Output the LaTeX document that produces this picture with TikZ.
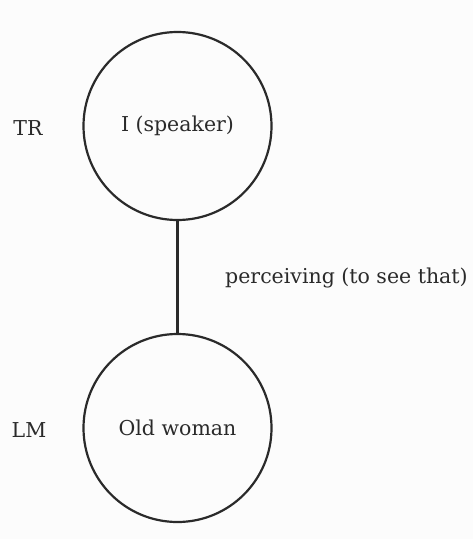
\documentclass[tikz,border=0pt]{standalone}
\usepackage{fontspec}
\setmainfont{DejaVu Serif}
\usetikzlibrary{positioning}
\definecolor{inkgray}{HTML}{2A2A2A}
\definecolor{paper}{HTML}{FCFCFC}

\begin{document}
\begin{tikzpicture}[
x=1pt,y=-1pt,
entity/.style={circle,draw=inkgray,line width=2.2pt,minimum size=188pt,inner sep=0pt,text=inkgray,font=\fontsize{20.5}{24}\selectfont},
role/.style={text=inkgray,inner sep=0pt,font=\fontsize{20.5}{24}\selectfont},
link/.style={draw=inkgray,line width=2.2pt}
]
\fill[paper] (0,0) rectangle (473,539);
\useasboundingbox (0,0) rectangle (473,539);

\node[entity] (speaker) at (177.5,126) {I (speaker)};
\node[entity] (woman) at (177.5,428) {Old woman};

\node[role] (tr) at (28,128) {TR};
\node[role] (lm) at (29,430) {LM};

\draw[link] (speaker) -- (woman);

\node[role,anchor=west] (perceiving) at (225,278) {perceiving (to see that)};
\end{tikzpicture}
\end{document}
